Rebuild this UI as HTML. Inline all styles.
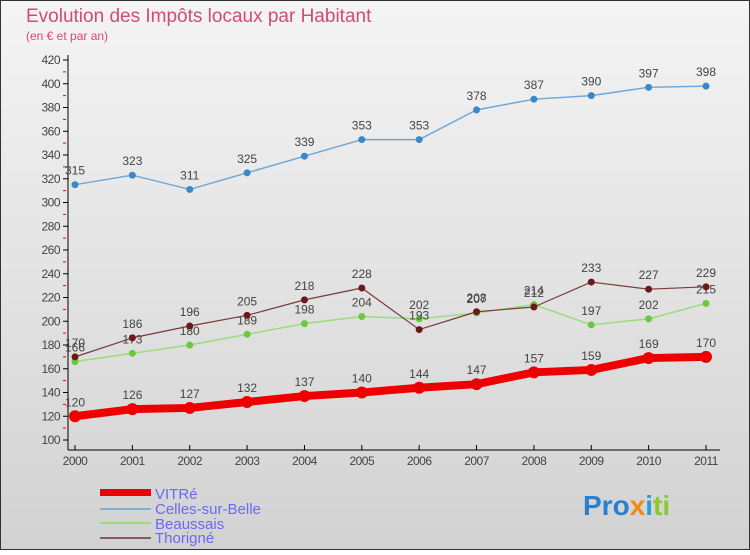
<!DOCTYPE html>
<html><head><meta charset="utf-8"><style>
body{margin:0;width:750px;height:550px;overflow:hidden;font-family:"Liberation Sans",sans-serif}
</style></head><body>
<svg id="c" width="750" height="550" xmlns="http://www.w3.org/2000/svg">
<defs><linearGradient id="bg" x1="0" y1="0" x2="0" y2="1"><stop offset="0" stop-color="#f4f4f4"/><stop offset="1" stop-color="#d2d2d2"/></linearGradient></defs>
<rect x="0.5" y="0.5" width="749" height="549" fill="url(#bg)" stroke="#333"/>
<text x="26" y="22" font-size="19" fill="#d24a78">Evolution des Impôts locaux par Habitant</text>
<text x="26" y="40" font-size="12" fill="#d24a78">(en € et par an)</text>
<g id="axes"></g><g id="series"></g>
<g>
<rect x="100" y="489" width="51" height="7" fill="#e00"/>
<rect x="100" y="508" width="51" height="2" fill="#7fb0d2"/>
<rect x="100" y="522" width="51" height="2" fill="#99dd77"/>
<rect x="100" y="537" width="51" height="2" fill="#8a5a5a"/>
<g font-size="15" fill="#6a6af0">
<text x="155" y="499">VITRé</text>
<text x="155" y="514">Celles-sur-Belle</text>
<text x="155" y="529">Beaussais</text>
<text x="155" y="543">Thorigné</text>
</g></g>
<text x="583" y="515" font-size="28" font-weight="bold"><tspan fill="#2a7fd0">Pro</tspan><tspan fill="#f08a10">x</tspan><tspan fill="#2a9fd0">i</tspan><tspan fill="#8cc830">ti</tspan></text>
</svg>
<script>
const years=[2000,2001,2002,2003,2004,2005,2006,2007,2008,2009,2010,2011];
const vitre=[120,126,127,132,137,140,144,147,157,159,169,170];
const celles=[315,323,311,325,339,353,353,378,387,390,397,398];
const beaussais=[166,173,180,189,198,204,202,207,214,197,202,215];
const thorigne=[170,186,196,205,218,228,193,208,212,233,227,229];
const yTicks=[100,120,140,160,180,200,220,240,260,280,300,320,340,360,380,400,420];
const NS="http://www.w3.org/2000/svg";
const X=i=>75+i*(706-75)/11, Y=v=>440-(v-100)*(380/320);
function mk(t,a,p){const e=document.createElementNS(NS,t);for(const k in a)e.setAttribute(k,a[k]);p.appendChild(e);return e;}
const ax=document.getElementById('axes');
const yl=mk('line',{x1:68,y1:55,x2:68,y2:450,stroke:'#000'},ax);


const xl=mk('line',{x1:68,y1:450,x2:720,y2:450,stroke:'#000'},ax);


yTicks.forEach((v,i)=>{
 mk('line',{x1:63,y1:Y(v),x2:68,y2:Y(v),stroke:'#000'},ax);
 if(i<yTicks.length-1)mk('line',{x1:63,y1:Y(v+10),x2:66,y2:Y(v+10),stroke:'#e00'},ax);
 const t=mk('text',{x:60,y:Y(v)+4,'font-size':12,'text-anchor':'end',fill:'#444','letter-spacing':'-0.5'},ax);
 t.textContent=v;
 
 
});
years.forEach((y,i)=>{
 mk('line',{x1:X(i),y1:445,x2:X(i),y2:450,stroke:'#000'},ax);
 const t=mk('text',{x:X(i),y:465,'font-size':12,'text-anchor':'middle',fill:'#444','letter-spacing':'-0.5'},ax);
 t.textContent=y;
 
 
});
const sg=document.getElementById('series');
function draw(d,name,col,w,r,dot){
 const g=mk('g',{},sg);
 
 
 mk('polyline',{points:d.map((v,i)=>X(i)+','+Y(v)).join(' '),fill:'none',stroke:col,'stroke-width':w,'stroke-linejoin':'round'},g);
 d.forEach((v,i)=>{
  const c=mk('circle',{cx:X(i),cy:Y(v),r:r,fill:dot},g);
  
  
  const t=mk('text',{x:X(i),y:Y(v)-10,'font-size':12,'text-anchor':'middle',fill:'#444'},g);
  t.textContent=v;
  
  
 });
}
draw(beaussais,'beaussais','#99dd77',1.5,3.5,'#6cc83c');
draw(thorigne,'thorigne','#7a3a3a',1.2,3.5,'#6a1a1a');
draw(celles,'celles','#6fa8d8',1.5,3.5,'#3a88c8');
draw(vitre,'vitre','#ee0000',8,6,'#ee0000');
</script>
</body></html>
